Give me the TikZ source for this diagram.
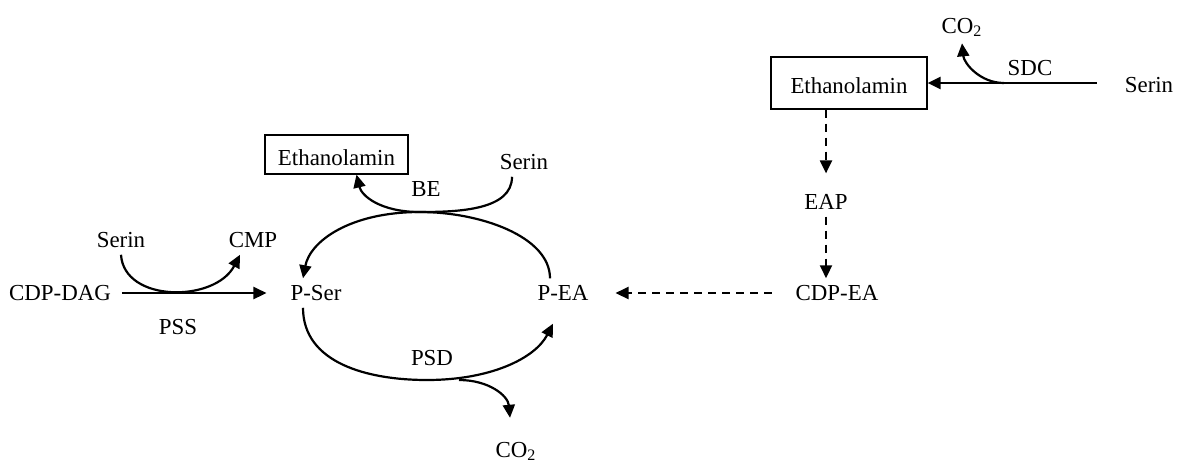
\documentclass[tikz,border=0pt]{standalone}
\usepackage{fontspec}
\setmainfont{Liberation Serif}
\usetikzlibrary{arrows.meta}
\tikzset{>={Triangle[length=6.5pt,width=6pt]}}

\begin{document}
\begin{tikzpicture}[x=0.5pt,y=-0.5pt,
font=\fontsize{11.45}{13.7}\selectfont,
ebox/.style = {
    draw, line width=0.6pt,
    text height=11pt,
              },
flow/.style = {->, line width=1.1pt},
dflow/.style = {flow, dash pattern=on 4pt off 3pt},
                    ]
\useasboundingbox (0,0) rectangle (1186,462);
% left cycle
\node (cdpdag) at (60,293)  {CDP-DAG};
\node (serl)   at (121,240) {Serin};
\node (cmp)    at (253,240) {CMP};
\node (pss)    at (178,327) {PSS};
\node (pser)   at (316,293) {P-Ser};
\node (pea)    at (563,293) {P-EA};
\node[ebox, minimum width=71.5pt, minimum height=19.5pt]
               (ethl) at (336.5,154.5) {Ethanolamin};
\node (serm)   at (524,162) {Serin};
\node (be)     at (426,189) {BE};
\node (psd)    at (432,358) {PSD};
\node[anchor=base] (co2b) at (516,457) {CO\textsubscript{2}};
% right branch
\node[ebox, minimum width=78pt, minimum height=26pt]
               (ethr) at (849,83) {Ethanolamin};
\node (serr)   at (1149,85) {Serin};
\node (sdc)    at (1030,68) {SDC};
\node[anchor=base] (co2t) at (962,33) {CO\textsubscript{2}};
\node (eap)    at (826,202) {EAP};
\node (cdpea)  at (837,293) {CDP-EA};
\coordinate (bex)  at (420,212);
\coordinate (psdx) at (427,380);
\coordinate (sdcx) at (1004,83);

\draw[flow, shorten <=2pt, shorten >=8.5pt] (cdpdag.east) -- (pser.west);
\draw[flow] (serl.south) .. controls +(3,48) and +(-25,48)
                        .. ([xshift=-6.5pt]cmp.south);
\draw[flow] ([xshift=-6pt]serm.south) .. controls +(0,33) and +(40,0) .. (bex)
                                      .. controls +(-40,0) and +(5,21)
                                      .. ([xshift=10pt]ethl.south);
\draw[flow] ([xshift=-6.5pt]pea.north) .. controls +(0,-42) and +(60,0) .. (bex)
                                       .. controls +(-70,0) and +(7,-37)
                                       .. ([xshift=-6.5pt]pser.north);
\draw[flow] ([xshift=-6.5pt]pser.south) .. controls +(0,55) and +(-60,0) .. (psdx)
                                        .. controls +(63,0) and +(-18,35)
                                        .. ([shift={(-5pt,-8pt)}]pea.south);
\draw[flow] ([xshift=16pt]psdx) .. controls +(30,0) and +(-2,-22)
                                .. ([shift={(-3pt,8.5pt)}]co2b.north);
\draw[flow, shorten <=10.5pt] (serr.west |- ethr.east) -- (ethr.east);
\draw[flow] (sdcx) .. controls +(-24,0) and +(2,20) .. (co2t.south);
\draw[dflow] (eap.north |- ethr.south) -- ([yshift=7pt]eap.north);
\draw[dflow] (eap.south) -- (eap.south |- cdpea.north);
\draw[dflow, shorten <=8.5pt, shorten >=10pt] (cdpea.west) -- (pea.east);
\end{tikzpicture}
\end{document}
